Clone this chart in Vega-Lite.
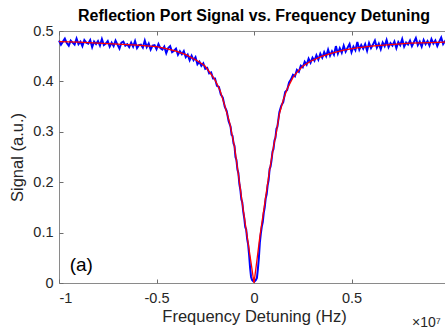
{
  "$schema": "https://vega.github.io/schema/vega-lite/v6.json",
  "width": 390,
  "height": 252,
  "autosize": {"type": "none"},
  "padding": {"left": 59, "top": 31, "right": 0, "bottom": 50},
  "background": "white",
  "config": {
    "font": "Liberation Sans",
    "view": {"stroke": "#8a8a8a", "strokeWidth": 1},
    "axis": {
      "grid": false,
      "domain": false,
      "tickColor": "#6e6e6e",
      "tickSize": -4,
      "labelColor": "#262626",
      "labelFontSize": 14.5,
      "titleColor": "#262626",
      "titleFontSize": 16.5,
      "titleFontWeight": "normal",
      "labelFont": "Liberation Sans",
      "titleFont": "Liberation Sans"
    }
  },
  "title": {
    "text": "Reflection Port Signal vs. Frequency Detuning",
    "fontSize": 16,
    "fontWeight": "bold",
    "color": "#000000",
    "anchor": "middle",
    "offset": -1,
    "font": "Liberation Sans"
  },
  "datasets": {
    "meas": [
      {"detuning": -1.00, "signal": 0.481}, {"detuning": -0.99, "signal": 0.473}, {"detuning": -0.98, "signal": 0.479},
      {"detuning": -0.97, "signal": 0.485}, {"detuning": -0.96, "signal": 0.476}, {"detuning": -0.95, "signal": 0.471},
      {"detuning": -0.94, "signal": 0.481}, {"detuning": -0.93, "signal": 0.477}, {"detuning": -0.92, "signal": 0.473},
      {"detuning": -0.91, "signal": 0.485}, {"detuning": -0.90, "signal": 0.474}, {"detuning": -0.89, "signal": 0.479},
      {"detuning": -0.88, "signal": 0.470}, {"detuning": -0.87, "signal": 0.482}, {"detuning": -0.86, "signal": 0.477},
      {"detuning": -0.85, "signal": 0.475}, {"detuning": -0.84, "signal": 0.482}, {"detuning": -0.83, "signal": 0.468},
      {"detuning": -0.82, "signal": 0.479}, {"detuning": -0.81, "signal": 0.474}, {"detuning": -0.80, "signal": 0.480},
      {"detuning": -0.79, "signal": 0.471}, {"detuning": -0.78, "signal": 0.484}, {"detuning": -0.77, "signal": 0.472},
      {"detuning": -0.76, "signal": 0.475}, {"detuning": -0.75, "signal": 0.480}, {"detuning": -0.74, "signal": 0.469},
      {"detuning": -0.73, "signal": 0.477}, {"detuning": -0.72, "signal": 0.470}, {"detuning": -0.71, "signal": 0.481},
      {"detuning": -0.70, "signal": 0.473}, {"detuning": -0.69, "signal": 0.465}, {"detuning": -0.68, "signal": 0.477},
      {"detuning": -0.67, "signal": 0.479}, {"detuning": -0.66, "signal": 0.471}, {"detuning": -0.65, "signal": 0.474},
      {"detuning": -0.64, "signal": 0.468}, {"detuning": -0.63, "signal": 0.477}, {"detuning": -0.62, "signal": 0.469},
      {"detuning": -0.61, "signal": 0.480}, {"detuning": -0.60, "signal": 0.466}, {"detuning": -0.59, "signal": 0.472},
      {"detuning": -0.58, "signal": 0.473}, {"detuning": -0.57, "signal": 0.467}, {"detuning": -0.56, "signal": 0.481},
      {"detuning": -0.55, "signal": 0.468}, {"detuning": -0.54, "signal": 0.475}, {"detuning": -0.53, "signal": 0.463},
      {"detuning": -0.52, "signal": 0.471}, {"detuning": -0.51, "signal": 0.472}, {"detuning": -0.50, "signal": 0.464},
      {"detuning": -0.49, "signal": 0.474}, {"detuning": -0.48, "signal": 0.466}, {"detuning": -0.47, "signal": 0.463},
      {"detuning": -0.46, "signal": 0.469}, {"detuning": -0.45, "signal": 0.456}, {"detuning": -0.44, "signal": 0.466},
      {"detuning": -0.43, "signal": 0.470}, {"detuning": -0.42, "signal": 0.458}, {"detuning": -0.41, "signal": 0.461},
      {"detuning": -0.40, "signal": 0.465}, {"detuning": -0.39, "signal": 0.453}, {"detuning": -0.38, "signal": 0.460},
      {"detuning": -0.37, "signal": 0.454}, {"detuning": -0.36, "signal": 0.460}, {"detuning": -0.35, "signal": 0.448},
      {"detuning": -0.34, "signal": 0.453}, {"detuning": -0.33, "signal": 0.442}, {"detuning": -0.32, "signal": 0.451},
      {"detuning": -0.31, "signal": 0.442}, {"detuning": -0.30, "signal": 0.448}, {"detuning": -0.29, "signal": 0.434},
      {"detuning": -0.28, "signal": 0.439}, {"detuning": -0.27, "signal": 0.431}, {"detuning": -0.26, "signal": 0.436},
      {"detuning": -0.25, "signal": 0.425}, {"detuning": -0.24, "signal": 0.427}, {"detuning": -0.23, "signal": 0.416},
      {"detuning": -0.22, "signal": 0.418}, {"detuning": -0.21, "signal": 0.406}, {"detuning": -0.20, "signal": 0.406},
      {"detuning": -0.19, "signal": 0.391}, {"detuning": -0.18, "signal": 0.389}, {"detuning": -0.17, "signal": 0.374},
      {"detuning": -0.16, "signal": 0.368}, {"detuning": -0.15, "signal": 0.350}, {"detuning": -0.14, "signal": 0.341},
      {"detuning": -0.13, "signal": 0.321}, {"detuning": -0.12, "signal": 0.310}, {"detuning": -0.115, "signal": 0.294},
      {"detuning": -0.11, "signal": 0.292}, {"detuning": -0.105, "signal": 0.277}, {"detuning": -0.10, "signal": 0.272},
      {"detuning": -0.095, "signal": 0.250}, {"detuning": -0.09, "signal": 0.244}, {"detuning": -0.085, "signal": 0.225},
      {"detuning": -0.08, "signal": 0.218}, {"detuning": -0.075, "signal": 0.196}, {"detuning": -0.07, "signal": 0.185},
      {"detuning": -0.065, "signal": 0.166}, {"detuning": -0.06, "signal": 0.160}, {"detuning": -0.055, "signal": 0.141},
      {"detuning": -0.05, "signal": 0.129}, {"detuning": -0.045, "signal": 0.111}, {"detuning": -0.04, "signal": 0.106},
      {"detuning": -0.035, "signal": 0.087}, {"detuning": -0.03, "signal": 0.076}, {"detuning": -0.025, "signal": 0.055},
      {"detuning": -0.02, "signal": 0.030}, {"detuning": -0.015, "signal": 0.012}, {"detuning": -0.01, "signal": 0.006},
      {"detuning": -0.005, "signal": 0.004}, {"detuning": 0.0, "signal": 0.008}, {"detuning": 0.005, "signal": 0.004},
      {"detuning": 0.01, "signal": 0.006}, {"detuning": 0.015, "signal": 0.010}, {"detuning": 0.02, "signal": 0.028},
      {"detuning": 0.025, "signal": 0.050}, {"detuning": 0.03, "signal": 0.080}, {"detuning": 0.035, "signal": 0.098},
      {"detuning": 0.04, "signal": 0.112}, {"detuning": 0.045, "signal": 0.121}, {"detuning": 0.05, "signal": 0.139},
      {"detuning": 0.055, "signal": 0.150}, {"detuning": 0.06, "signal": 0.168}, {"detuning": 0.065, "signal": 0.176},
      {"detuning": 0.07, "signal": 0.194}, {"detuning": 0.075, "signal": 0.204}, {"detuning": 0.08, "signal": 0.226},
      {"detuning": 0.085, "signal": 0.231}, {"detuning": 0.09, "signal": 0.244}, {"detuning": 0.095, "signal": 0.261},
      {"detuning": 0.10, "signal": 0.266}, {"detuning": 0.105, "signal": 0.283}, {"detuning": 0.11, "signal": 0.288},
      {"detuning": 0.115, "signal": 0.306}, {"detuning": 0.12, "signal": 0.310}, {"detuning": 0.13, "signal": 0.339},
      {"detuning": 0.14, "signal": 0.352}, {"detuning": 0.15, "signal": 0.359}, {"detuning": 0.16, "signal": 0.379},
      {"detuning": 0.17, "signal": 0.383}, {"detuning": 0.18, "signal": 0.398}, {"detuning": 0.19, "signal": 0.404},
      {"detuning": 0.20, "signal": 0.413}, {"detuning": 0.21, "signal": 0.410}, {"detuning": 0.22, "signal": 0.423},
      {"detuning": 0.23, "signal": 0.419}, {"detuning": 0.24, "signal": 0.431}, {"detuning": 0.25, "signal": 0.428},
      {"detuning": 0.26, "signal": 0.439}, {"detuning": 0.27, "signal": 0.433}, {"detuning": 0.28, "signal": 0.445},
      {"detuning": 0.29, "signal": 0.437}, {"detuning": 0.30, "signal": 0.447}, {"detuning": 0.31, "signal": 0.441},
      {"detuning": 0.32, "signal": 0.452}, {"detuning": 0.33, "signal": 0.443}, {"detuning": 0.34, "signal": 0.455},
      {"detuning": 0.35, "signal": 0.447}, {"detuning": 0.36, "signal": 0.458}, {"detuning": 0.37, "signal": 0.450},
      {"detuning": 0.38, "signal": 0.463}, {"detuning": 0.39, "signal": 0.451}, {"detuning": 0.40, "signal": 0.460},
      {"detuning": 0.41, "signal": 0.453}, {"detuning": 0.42, "signal": 0.470}, {"detuning": 0.43, "signal": 0.455},
      {"detuning": 0.44, "signal": 0.466}, {"detuning": 0.45, "signal": 0.457}, {"detuning": 0.46, "signal": 0.471},
      {"detuning": 0.47, "signal": 0.459}, {"detuning": 0.48, "signal": 0.467}, {"detuning": 0.49, "signal": 0.474},
      {"detuning": 0.50, "signal": 0.458}, {"detuning": 0.51, "signal": 0.469}, {"detuning": 0.52, "signal": 0.462},
      {"detuning": 0.53, "signal": 0.478}, {"detuning": 0.54, "signal": 0.463}, {"detuning": 0.55, "signal": 0.472},
      {"detuning": 0.56, "signal": 0.465}, {"detuning": 0.57, "signal": 0.474}, {"detuning": 0.58, "signal": 0.461},
      {"detuning": 0.59, "signal": 0.476}, {"detuning": 0.60, "signal": 0.466}, {"detuning": 0.61, "signal": 0.473},
      {"detuning": 0.62, "signal": 0.481}, {"detuning": 0.63, "signal": 0.467}, {"detuning": 0.64, "signal": 0.475},
      {"detuning": 0.65, "signal": 0.464}, {"detuning": 0.66, "signal": 0.477}, {"detuning": 0.67, "signal": 0.470},
      {"detuning": 0.68, "signal": 0.482}, {"detuning": 0.69, "signal": 0.468}, {"detuning": 0.70, "signal": 0.476},
      {"detuning": 0.71, "signal": 0.471}, {"detuning": 0.72, "signal": 0.479}, {"detuning": 0.73, "signal": 0.466},
      {"detuning": 0.74, "signal": 0.478}, {"detuning": 0.75, "signal": 0.472}, {"detuning": 0.76, "signal": 0.484},
      {"detuning": 0.77, "signal": 0.469}, {"detuning": 0.78, "signal": 0.477}, {"detuning": 0.79, "signal": 0.473},
      {"detuning": 0.80, "signal": 0.481}, {"detuning": 0.81, "signal": 0.470}, {"detuning": 0.82, "signal": 0.478},
      {"detuning": 0.83, "signal": 0.486}, {"detuning": 0.84, "signal": 0.472}, {"detuning": 0.85, "signal": 0.479},
      {"detuning": 0.86, "signal": 0.469}, {"detuning": 0.87, "signal": 0.482}, {"detuning": 0.88, "signal": 0.474},
      {"detuning": 0.89, "signal": 0.480}, {"detuning": 0.90, "signal": 0.471}, {"detuning": 0.91, "signal": 0.484},
      {"detuning": 0.92, "signal": 0.475}, {"detuning": 0.93, "signal": 0.481}, {"detuning": 0.94, "signal": 0.470},
      {"detuning": 0.95, "signal": 0.479}, {"detuning": 0.96, "signal": 0.487}, {"detuning": 0.97, "signal": 0.474},
      {"detuning": 0.98, "signal": 0.480}, {"detuning": 0.99, "signal": 0.472}
    ],
    "fit": [
      {"detuning": -1.0, "signal": 0.479}, {"detuning": -0.9, "signal": 0.478}, {"detuning": -0.8, "signal": 0.476},
      {"detuning": -0.7, "signal": 0.474}, {"detuning": -0.6, "signal": 0.472}, {"detuning": -0.5, "signal": 0.469},
      {"detuning": -0.45, "signal": 0.465}, {"detuning": -0.4, "signal": 0.460}, {"detuning": -0.35, "signal": 0.453},
      {"detuning": -0.3, "signal": 0.443}, {"detuning": -0.275, "signal": 0.437}, {"detuning": -0.25, "signal": 0.430},
      {"detuning": -0.225, "signal": 0.417}, {"detuning": -0.2, "signal": 0.403}, {"detuning": -0.175, "signal": 0.383},
      {"detuning": -0.15, "signal": 0.352}, {"detuning": -0.125, "signal": 0.318}, {"detuning": -0.1, "signal": 0.270},
      {"detuning": -0.08, "signal": 0.215}, {"detuning": -0.06, "signal": 0.158}, {"detuning": -0.035, "signal": 0.092},
      {"detuning": -0.015, "signal": 0.040}, {"detuning": 0.0, "signal": 0.0}, {"detuning": 0.015, "signal": 0.045},
      {"detuning": 0.03, "signal": 0.092}, {"detuning": 0.055, "signal": 0.158}, {"detuning": 0.08, "signal": 0.224},
      {"detuning": 0.1, "signal": 0.270}, {"detuning": 0.115, "signal": 0.300}, {"detuning": 0.13, "signal": 0.335},
      {"detuning": 0.15, "signal": 0.363}, {"detuning": 0.17, "signal": 0.385}, {"detuning": 0.2, "signal": 0.408},
      {"detuning": 0.225, "signal": 0.420}, {"detuning": 0.25, "signal": 0.430}, {"detuning": 0.29, "signal": 0.440},
      {"detuning": 0.35, "signal": 0.450}, {"detuning": 0.4, "signal": 0.456}, {"detuning": 0.46, "signal": 0.462},
      {"detuning": 0.52, "signal": 0.466}, {"detuning": 0.6, "signal": 0.470}, {"detuning": 0.7, "signal": 0.473},
      {"detuning": 0.8, "signal": 0.476}, {"detuning": 0.9, "signal": 0.477}, {"detuning": 1.0, "signal": 0.478}
    ]
  },
  "layer": [
    {
      "data": {"name": "meas"},
      "mark": {"type": "line", "color": "#0000ff", "strokeWidth": 2},
      "encoding": {
        "x": {
          "field": "detuning", "type": "quantitative",
          "scale": {"domain": [-1, 1], "nice": false, "zero": false},
          "axis": {"orient": "bottom", "values": [-1, -0.5, 0, 0.5, 1], "labelExpr": "datum.value == 1 ? '' : '' + datum.value", "labelPadding": 12, "title": "Frequency Detuning (Hz)", "titlePadding": 4}
        },
        "y": {
          "field": "signal", "type": "quantitative",
          "scale": {"domain": [0, 0.5], "nice": false, "zero": false},
          "axis": {"orient": "left", "values": [0, 0.1, 0.2, 0.3, 0.4, 0.5], "labelExpr": "'' + datum.value", "labelPadding": 10, "title": "Signal (a.u.)", "titlePadding": 7}
        }
      }
    },
    {
      "data": {"name": "fit"},
      "mark": {"type": "line", "color": "#ff0000", "strokeWidth": 1.3},
      "encoding": {
        "x": {
          "field": "detuning", "type": "quantitative",
          "scale": {"domain": [-1, 1], "nice": false, "zero": false},
          "axis": {"orient": "top", "values": [-1, -0.5, 0, 0.5, 1], "labels": false, "title": null}
        },
        "y": {
          "field": "signal", "type": "quantitative",
          "scale": {"domain": [0, 0.5], "nice": false, "zero": false},
          "axis": {"orient": "right", "values": [0, 0.1, 0.2, 0.3, 0.4, 0.5], "labels": false, "title": null}
        }
      }
    },
    {
      "data": {"values": [{"label": "(a)"}]},
      "mark": {"type": "text", "fontSize": 19, "align": "left", "baseline": "middle", "color": "#000000", "font": "Liberation Sans"},
      "encoding": {
        "text": {"field": "label"},
        "x": {"datum": -0.945, "type": "quantitative", "scale": {"domain": [-1, 1], "nice": false, "zero": false}, "axis": null},
        "y": {"datum": 0.036, "type": "quantitative", "scale": {"domain": [0, 0.5], "nice": false, "zero": false}, "axis": null}
      }
    },
    {
      "data": {"values": [{"label": "×10⁷"}]},
      "mark": {"type": "text", "fontSize": 14, "align": "left", "baseline": "middle", "color": "#262626", "font": "Liberation Sans"},
      "encoding": {
        "text": {"field": "label"},
        "x": {"datum": 0.81, "type": "quantitative", "scale": {"domain": [-1, 1], "nice": false, "zero": false}, "axis": null},
        "y": {"datum": -0.079, "type": "quantitative", "scale": {"domain": [0, 0.5], "nice": false, "zero": false}, "axis": null}
      }
    }
  ],
  "resolve": {"axis": {"x": "independent", "y": "independent"}}
}
